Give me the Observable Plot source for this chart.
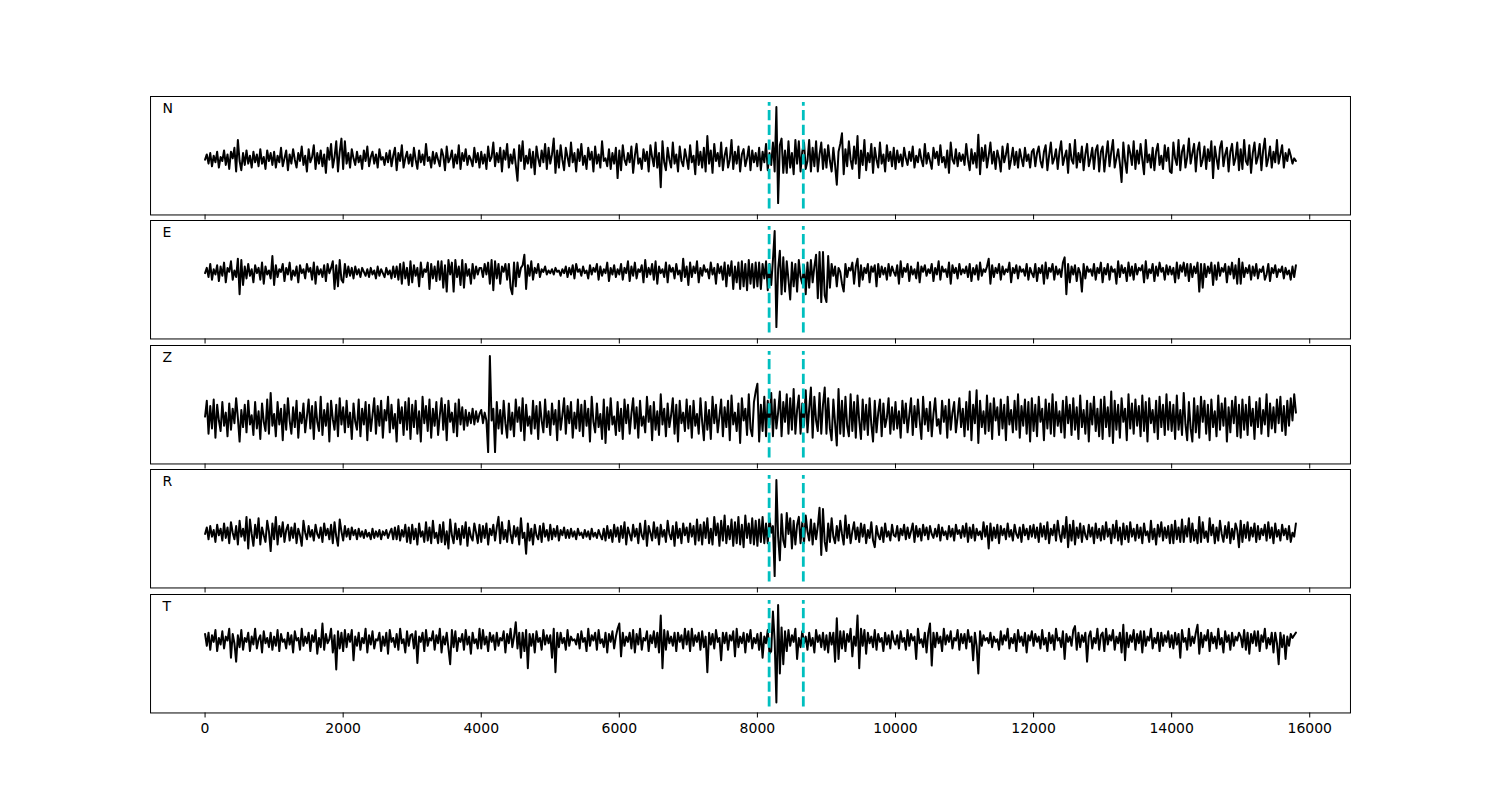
<!DOCTYPE html>
<html><head><meta charset="utf-8">
<script src="https://cdn.jsdelivr.net/npm/d3@7"></script>
<script src="https://cdn.jsdelivr.net/npm/@observablehq/plot@0.6"></script>
<style>
body{margin:0;background:#fff;font-family:"DejaVu Sans",sans-serif}
#fig{position:relative;width:1500px;height:800px;background:#fff}
</style>
</head><body><div id="fig"></div>
<script>
// sample spacing of the traces (x units)
const sampleStep = 25;
const channels = ["N", "E", "Z", "R", "T"];

const N = [
 -3, 1, -6, 2, -8, 0, -5, 3, -9, -1, -4, 4, -7, 1, -10, 3, -2, 6, -12, 12, -4, -11, 2, -7, 4, -6, 0, -9, 3, -5, 1, -8, 5, -6, -1, -10, 4, -4, 2, -7,
 3, -9, 0, -5, 6, -8, -2, 4, -11, 1, -6, 5, -3, -9, 2, -4, 7, -7, 0, -12, 5, -5, -1, 8, -10, 2, -6, 4, -8, 1, -13, 6, -3, 9, -9, -1, 11, -12, 3, 13,
 -10, 11, -6, 2, -9, 5, -2, -7, 3, -5, 0, -10, 4, -4, 7, -8, -1, 3, -6, 1, -9, 5, -3, -1, -7, 2, -5, 4, -8, 0, 6, -11, 2, -4, 8, -9, -2, 3, -6, 1,
 -8, 6, -3, -10, 4, -5, 1, -7, 9, -4, -1, -9, 3, -6, 2, -3, -8, 5, 0, -11, 7, -5, -2, 4, -9, 1, -6, 8, -10, 2, -4, 5, -7, 0, -3, -8, 6, -5, 2, -9,
 3, -6, 1, -10, 7, -4, -1, 10, -8, 2, -5, 6, -12, 4, -3, 9, -9, 1, -6, 5, -7, -19, 8, -4, 11, -10, 0, -6, 5, -9, 3, -14, 7, -2, -8, 4, -5, 9, -10, 6,
 -6, 1, 13, -13, 4, -9, 8, -3, -11, 6, -1, -8, 10, -5, 2, -12, 5, -4, 9, -7, 0, -10, 6, -3, 3, -12, 7, -6, 1, -9, 11, -4, -2, -8, 5, -10, 2, -6, 6, -17,
 4, -11, 8, -3, -7, 2, -5, 7, -13, 0, 9, -6, -2, -10, 5, -4, 3, -12, 8, -1, -8, 10, -9, 2, -24, 11, -5, -11, 6, -3, -9, 10, -6, 1, -12, 7, -4, -8, 5, -2,
 -10, 8, -5, 0, -14, 11, -7, 3, -9, 6, -12, 15, -6, 4, -13, 9, -4, 2, -8, 10, -11, 0, 6, -9, -3, 12, -10, 3, -6, 7, -12, 1, 5, -8, -2, 7, -11, 4, -5, 2,
 -8, 6, -11, 3, -5, 9, -11, 2, -7, 10, -12, 37, -36, 8, 13, -13, 4, -13, 11, -9, 2, -14, 12, -6, 11, -12, 3, 10, -10, -4, 12, -12, 6, -8, 11, -12, 1, 10, -10, 5,
 -9, 8, -4, -12, 6, -7, -22, 3, 9, 17, -14, 5, -8, 11, -3, -10, 7, -6, 15, -17, 4, -7, 12, -11, 2, -5, 9, -13, 6, -3, -9, 10, -6, 1, -12, 8, -4, 3, -8, 6,
 -10, 4, -5, 1, -8, 6, -2, -7, 3, -4, 7, -9, 0, -5, 5, -3, -8, 9, -6, 2, -4, -10, 6, -2, 3, -7, 8, -5, -1, -9, 4, -13, 10, -3, -6, 5, -8, 2, -4, 1,
 -7, 9, -3, -11, 5, -6, 2, -9, 16, -14, 6, -4, 8, -9, 0, 10, -6, 3, -10, 4, -2, -12, 7, -5, 1, 9, -10, -3, 6, -7, 3, -9, 5, -2, -8, 6, -4, 1, -9, 3,
 5, -8, 2, 7, -4, -9, 3, 8, -11, 0, 10, -6, -2, 5, -10, 3, 11, -7, -1, 4, -13, 9, -3, -6, 12, -9, 2, -5, 7, -11, 1, 9, -8, -2, 6, -10, 4, 8, -12, 3,
 7, -12, 0, 11, -8, 3, 12, -9, -2, 5, -6, -20, 10, -4, -13, 8, 2, -7, 11, -10, 4, -6, 9, -3, -14, 12, -5, 1, -9, 6, -11, 3, 9, -7, 0, -10, 8, -4, 6, -12,
 -13, 10, -2, -7, 12, -11, 3, 8, -9, -1, 13, -6, 2, 9, -12, 4, 10, -8, -3, 7, -10, 5, -4, 11, -17, 7, -2, -10, 6, 11, -8, 1, 6, -12, 3, 9, -7, -2, 10, -11,
 5, -10, 12, -4, -7, 8, -13, 2, 10, -6, -1, 9, -11, 4, 13, -8, -2, 7, -9, 3, -5, 12, -6, 1, 8, -9, 2, -4, 5, 0, -6, -2, -4
];
const E = [
 5, 9, 2, 12, 0, 8, 4, 11, -1, 10, 3, 13, -2, 9, 6, 14, 0, 7, 2, 16, -11, 15, -4, 10, 1, 12, 3, 8, -2, 11, 5, 9, 0, 13, -3, 10, 4, 7, 1, 18,
 -4, 11, 2, 8, 6, 12, -1, 9, 4, 13, 0, 7, 3, 10, -2, 11, 5, 8, 1, 12, 6, 9, 0, 13, -3, 10, 4, 8, 2, 11, -1, 12, 5, 9, 14, -7, 11, -5, 15, 0,
 -2, 12, 2, 10, 3, 9, 1, 10, 4, 8, 2, 9, 6, 3, 8, 2, 9, 4, 7, 1, 10, 3, 8, 5, 2, 9, 4, 7, 1, 10, 2, 10, 0, 12, -3, 13, 1, 9, -4, 14,
 -2, 11, 3, 9, -5, 13, 2, 8, 6, 13, -7, 12, 1, 10, -1, 14, 0, 14, -6, 11, -9, 15, 4, 13, -9, 15, 2, 10, -4, 15, -6, 12, 3, 8, -3, 12, 1, 10, 4, 9,
 9, 2, 12, 4, 13, -3, 15, -8, 14, 1, 12, -3, 10, 6, 12, 0, 12, -6, -11, 13, -5, 13, 2, 9, 11, 19, -7, 11, 3, 14, 0, 9, 5, 12, 2, 8, 6, 10, 4, 7,
 5, 8, 4, 9, 6, 7, 3, 8, 5, 10, 2, 9, 4, 11, 1, 12, 6, 8, 3, 10, 5, 7, 1, 11, 4, 9, 6, 12, 0, 10, 3, 8, 5, 13, -1, 9, 4, 11, 2, 8,
 4, 12, 0, 9, 5, 14, -1, 10, 3, 13, 1, 8, 6, 11, -2, 15, 2, 9, 4, 12, 0, 14, -3, 10, 5, 8, 2, 13, -2, 11, 6, 9, 1, 12, 4, 7, -1, 16, 2, 10,
 -4, 13, 2, 10, 5, 14, -2, 9, 3, 11, 6, 8, 1, 13, 4, 9, -3, 12, 5, 10, 0, 13, -5, 11, 3, 14, -7, 10, -2, 13, -7, 14, -5, 12, -8, 15, -3, 12, -6, 13,
 -5, 13, -7, 12, 1, 14, -8, 12, -4, 15, 37, -36, 8, 22, -11, 17, -9, 14, 0, -15, 13, -5, 12, -9, 15, 2, -3, 11, -11, 13, -6, 15, -2, 10, 19, -14, 21, -17, 21, -12,
 -17, 18, -6, 12, 3, 10, -5, 9, 6, -3, -9, 12, 2, 9, 7, 13, -3, 10, 16, -5, 11, 0, 9, 5, 12, -2, 10, 6, 11, -5, 12, 2, 10, 4, 9, 0, 12, 3, 10, 6,
 3, 11, -3, 14, 2, 9, 6, 12, -1, 10, 4, 8, 1, 13, -2, 10, 6, 11, 3, 8, 5, 12, -1, 9, 4, 14, 0, 10, 6, 8, 2, 13, -3, 11, 5, 9, 1, 12, 4, 8,
 5, 10, 2, 12, -1, 9, 4, 11, 0, 13, 3, 8, 6, 10, 16, -3, 11, 2, 9, 5, 12, 0, 10, 4, 8, 6, 13, -2, 9, 5, 11, 1, 10, 6, 8, 3, 12, 0, 9, 5,
 2, 12, -1, 9, 5, 11, -3, 13, 1, 9, 6, 12, 0, 10, 4, 8, 2, 13, 17, -11, 12, -2, 10, 4, 11, -1, 9, 5, -9, 12, 1, 10, 6, 8, 3, 12, 0, 9, 5, 13,
 -2, 9, 4, 12, 0, 10, 6, 8, -3, 14, 2, 11, 5, 9, -1, 13, 3, 10, 0, 12, 4, 9, 7, 11, -2, 14, 1, 8, 5, 12, -1, 10, 3, 13, 6, 9, 0, 11, 4, 10,
 4, 9, -2, 13, 1, 11, 6, 13, 3, 12, -1, 12, 2, 10, 5, 13, -9, 12, -6, 12, 2, 10, 5, 13, -4, 11, 0, 13, 3, 9, 6, 12, -2, 10, 4, 13, 1, 11, -3, 16,
 -3, 13, 2, 9, 5, 11, 0, 10, 3, 12, 1, 8, 6, 10, 0, 4, 12, -1, 9, 5, 11, 2, 8, 6, 10, 1, 9, 4, 7, 0, 10, 2, 11
];
const Z = [
 -9, 3, -22, -1, -18, 4, -25, 0, -12, -20, 2, -16, -6, -24, 1, -19, -3, -14, 5, -10, -28, -4, -17, 0, -21, 3, -15, -8, -23, 2, -18, -5, -26, 1, -13, -20, 4, -22, 9, -16,
 -7, -24, 2, -15, -3, -27, 0, -19, 5, -12, -22, -2, -17, 3, -25, -6, -14, 1, -21, -9, 4, -18, -1, -26, 2, -13, -20, 6, -23, -4, -16, 1, -28, 3, -11, -19, 0, -24, 5, -15,
 -2, -21, 3, -17, -6, -26, 1, -13, -19, 4, -24, -3, -15, 2, -27, 0, -20, -8, 5, -22, -1, -16, 3, -25, -4, -12, 6, -21, 0, -18, -7, -28, 4, -14, -2, -23, 2, -19, 5, -26,
 0, -17, 3, -22, -5, -28, 6, -14, -1, -20, 4, -25, -3, -16, 2, -23, -8, 5, -19, 0, -27, 3, -13, -6, -21, 1, -24, 4, -15, -2, -19, -4, -16, -6, -14, -3, -15, -5, -13, -7,
 -4, -14, -6, -12, -36, 37, -12, -3, -36, 2, -18, -4, -22, 3, -14, -25, 1, -19, -6, -24, 4, -13, -2, -20, 5, -27, 0, -16, -9, -22, 3, -18, -1, -26, 2, -12, -21, 4, -17, -5,
 -23, 1, -15, -4, -27, 3, -19, -8, 5, -22, -1, -14, 2, -25, -6, -18, 4, -20, 0, -24, 3, -16, -3, -28, 6, -13, -21, 1, -17, -7, -26, 4, -29, -2, -19, 5, -15, -9, -23, 2,
 -20, -3, -26, 4, -14, 0, -22, -7, 5, -18, -2, -25, 3, -16, -9, -21, 6, -13, -1, -27, 2, -19, -5, -23, 8, -15, -3, -24, 1, -17, -8, 5, -22, 0, -28, 3, -14, -6, -20, 4,
 -18, -1, -25, 3, -16, -7, -22, 5, -13, -27, 2, -19, -4, -26, 6, -14, 0, -21, -9, 4, -24, -2, -17, 3, -27, 7, -15, -6, -20, 1, -29, 5, -12, -3, -23, 8, -18, -24, 2, 10,
 16, -28, 0, -20, 6, -24, 3, -15, 9, -24, 4, -18, -6, 10, -24, 2, -13, 8, -22, 5, -19, 12, -22, -4, 7, -22, 1, -16, 11, -21, -3, 13, -25, 6, -12, -20, 9, -22, 0, 13,
 -22, 5, -18, -27, 4, -14, -31, 12, -22, 3, -24, 6, -16, -24, 8, -20, 2, -25, 7, -12, -26, 4, -19, 0, -23, 5, -15, -28, 3, -21, -6, 4, -24, 1, -17, -10, 5, -22, -2, -19,
 2, -18, -5, -25, 3, -14, 1, -21, -8, 5, -23, -1, -17, 4, -12, -26, 6, -15, -3, -20, 2, -24, -7, 5, -16, -11, -22, 3, -13, -1, -25, 4, -19, -6, 2, -21, -9, 5, -17, -3,
 -24, 2, -19, 10, -27, 0, -14, 11, -29, 3, -17, -5, -22, 7, -20, 1, -26, 5, -12, -2, -23, 4, -18, 0, -27, 6, -15, -4, -21, 3, -19, 8, -25, -1, -16, 4, -22, 2, -28, 5,
 -20, 0, -24, 6, -13, -3, -27, 4, -18, 1, -22, 8, -24, 2, -16, -5, -21, 3, -25, 6, -14, 0, -23, 5, -19, -2, -26, 7, -17, -4, -22, 3, -28, 1, -15, 6, -20, -3, -24, 4,
 -26, 6, -17, -2, -24, 10, -29, 3, -19, 0, -25, 5, -13, -3, -27, 8, -18, 1, -22, 4, -16, -1, -24, 7, -20, 2, -28, 5, -14, -4, -21, 3, -26, 6, -17, 0, -23, 8, -19, 2,
 -20, 0, -26, 7, -19, -4, -23, 9, -15, -27, 2, -18, -28, 5, -21, -1, -25, 6, -13, 3, -22, 0, -27, 4, -17, -5, -24, 7, -19, 1, -16, 5, -28, -2, -21, 3, -14, 6, -24, 0,
 -25, 4, -19, 0, -23, 6, -16, -3, -26, 2, -17, 5, -22, -4, -15, 8, -24, 1, -18, -2, -21, 4, -14, 6, -20, -1, -23, 3, -16, 5, -12, 8, -6
];
const R = [
 -4, 1, -8, 2, -6, -1, -10, 3, -5, 0, -9, 4, -7, 1, -11, 5, -3, -8, 2, -12, 6, -6, 0, -9, 9, -15, 7, -4, -13, 3, -7, 8, -12, 1, -5, -10, 6, -2, -17, 4,
 -8, 9, -12, 2, -6, 5, -10, -1, 3, -9, 1, -7, 4, -11, 0, -5, -13, 6, -3, -8, 2, -6, -1, -9, 3, -4, -7, 1, -10, 4, -5, 0, -8, 3, -11, 5, -6, -13, 7, -2,
 -9, 2, -6, 0, -8, 1, -5, -1, -8, 0, -6, -2, -7, -1, -6, -3, -8, 0, -7, -2, -6, -1, -8, -2, -5, -1, -7, -3, 0, -8, 1, -8, 2, -9, -1, -6, 3, -10, 1, -11,
 3, -8, 0, -12, 4, -6, -2, -10, 5, -9, 1, -11, 6, -7, -3, -11, 3, -10, 5, -12, -2, -15, 7, -5, -11, 4, -8, 0, -12, 2, -7, 5, -13, 1, -6, -9, 4, -3, -11, 3,
 -10, 2, -7, 4, -12, 0, -5, 3, -9, 1, 9, -11, 5, -8, -1, -10, 6, -4, -11, 2, -6, 1, -12, 8, -7, -3, -19, 4, -9, 0, -12, 3, -5, -8, 2, -10, 4, -6, -1, -9,
 3, -8, 0, -6, 2, -9, -1, -5, 1, -7, -1, -7, 0, -6, -2, -8, 0, -5, -3, -7, -1, -6, -2, -8, 0, -6, -3, -7, -1, -5, -8, 0, -9, 2, -7, -1, -10, 3, -6, 1,
 -10, 2, -7, 5, -12, 1, -4, -9, 3, -6, 0, -11, 4, -5, -8, 6, -13, 2, -3, -9, 5, -7, 1, -12, 3, -6, -1, -10, 6, -4, -8, 2, -13, 5, -7, 0, -11, 4, -5, 1,
 -10, 4, -6, 2, -12, 7, -9, 3, -12, 5, -7, 8, -11, 0, -12, 9, -5, 4, -13, 6, -9, 10, -11, 2, -8, 7, -13, 5, -11, 9, -12, 3, -14, 10, -7, 4, -11, 8, -12, 6,
 -13, 7, -10, 9, -11, 4, -11, 8, -3, 2, -36, 37, -6, -24, 11, -9, -14, 12, -4, 8, -15, 6, -12, 3, 9, -11, 5, -11, 10, -2, -9, 7, -12, 4, -8, 2, 16, -20, 15, -10,
 -17, 4, -10, 8, -6, -11, 2, -9, 6, -4, -12, 10, -7, 3, -11, -2, 5, -8, 1, -10, 4, -6, 3, -11, -1, -7, 5, -9, -14, 2, -5, -8, 1, -10, 4, -6, -2, -9, 3, -5,
 -6, 2, -9, 0, -5, 3, -8, 1, -7, -2, 4, -10, 2, -6, 0, -9, 3, -5, 1, -8, 2, -4, -7, 0, -6, 3, -9, 1, -5, -2, -8, 2, -6, 0, -9, 3, -4, -1, -7, 2,
 -6, 4, -10, 1, -7, 3, -9, 0, -5, -2, -8, 5, -6, 2, -15, 4, -9, 1, -7, 3, -11, 2, -5, 0, -8, 4, -6, -1, -9, 3, -4, -7, 1, -10, 3, -5, 0, -8, 2, -6,
 3, -7, 1, -10, 4, -6, 2, -8, 5, -11, 0, -5, 3, -9, 6, -4, -10, 2, -7, 9, -14, 3, -9, 6, -12, 1, -7, 4, -10, 2, -5, -8, 3, -6, 1, -11, 4, -7, 0, -9,
 2, -8, 5, -6, 0, -11, 3, -7, 6, -9, 1, -12, 4, -8, 2, -10, 5, -6, 0, -9, 3, -7, 1, -11, 4, -5, -2, -10, 6, -8, 0, -12, 3, -6, 5, -9, 1, -7, 2, -11,
 3, -11, 6, -8, 1, -10, 7, -10, 2, -6, 8, -10, 4, -9, -1, -11, 9, -10, 5, -7, -2, -10, 8, -5, 3, -11, 1, -9, 6, -4, -10, 2, -7, 5, -11, 0, -8, 4, -1, -14,
 6, -10, 3, -7, 5, -9, 1, -6, 4, -10, 2, -8, 0, -5, 3, -9, 5, -7, 1, -11, 4, -6, -1, -9, 3, -5, 0, -8, 2, -10, -3, -6, 4
];
const T = [
 15, 6, 16, 3, 14, 9, 18, 2, 12, 7, 17, 4, 13, 10, 19, -3, 15, 8, -6, 14, 5, 18, 3, 12, 9, 16, 2, 13, 7, 19, 4, 11, 14, 1, 17, 8, 12, 5, 16, 3,
 13, 6, 18, 2, 15, 9, 11, 4, 16, 7, 14, 1, 17, 10, 12, 3, 19, 6, 13, 8, 16, 2, 14, 9, 18, 0, 12, 5, 23, 3, 15, 8, 11, 19, 1, 14, -12, 17, 4, 16,
 2, 18, 5, 15, 9, 18, -5, 13, 6, 16, 3, 12, 8, 19, 1, 14, 7, 17, 4, 11, 10, 16, 2, 13, 6, 16, 0, 18, 9, 12, 5, 15, 3, 19, 8, 11, 1, 17, 6, 14,
 15, 4, 17, -7, 13, 9, 16, 2, 18, 6, 12, 10, 17, 3, 14, 8, 19, 1, 13, 7, 16, 4, -8, 18, 5, 17, 2, 12, 9, 15, 3, 18, 7, 13, 0, 16, 8, 11, 4, 19,
 4, 18, 7, 13, 2, 16, 9, 14, 3, 16, 6, 12, 10, 17, 1, 15, 8, 19, 5, 13, 24, 4, 16, -3, 16, 2, 18, -11, 15, 6, 15, 1, 17, 9, 12, 3, 18, 7, 14, 8,
 14, -3, 19, -14, 16, 5, 16, 8, 12, 3, 18, 6, 13, 10, 11, 7, 15, 4, 17, 9, 12, 2, 19, 6, 14, 10, 16, 3, 18, 8, 11, 5, 16, 1, 15, 9, 17, 4, 13, 19,
 23, -2, 16, 6, 13, 9, 16, 4, 18, 1, 15, 7, 19, 3, 12, 10, 17, 2, 14, 8, 17, 5, 16, 1, 29, -11, 18, 3, 17, 8, 13, 6, 16, 2, 16, 9, 14, 4, 19, 7,
 17, 2, 19, 6, 14, 9, 16, 3, 17, 5, 13, -14, 16, 7, 15, 4, 18, 9, 12, -5, 16, 8, 16, 3, 14, 10, 17, -2, 19, 5, 13, 8, 16, 1, 15, 9, 18, 4, 12, 8,
 15, 3, 16, -3, 13, 8, 18, 0, 2, 32, 10, -37, 37, -15, 20, -8, 17, 2, 18, 6, 14, 9, 19, -4, 12, 5, 17, 8, 13, 3, 16, 6, 12, 1, 18, 9, 14, 5, 16, 3,
 14, 1, 16, 7, 16, -6, 27, -4, 17, 4, 17, 2, 15, 9, 19, -2, 13, 6, 29, -11, 19, 6, 18, 0, 16, 8, 13, 5, 18, 3, 15, 9, 12, 2, 16, 7, 14, 4, 17, 10,
 7, 14, 4, 17, 9, 12, 3, 18, 6, 15, 10, 13, -4, 19, 8, 11, 5, 16, 1, 16, 23, -9, 16, 5, 16, 8, 13, 2, 19, 7, 14, 9, 17, 4, 12, 10, 18, 3, 15, 8,
 15, 4, 18, 9, 13, -5, 16, 6, -15, 17, 6, 14, 10, 12, 8, 16, 5, 13, 9, 11, 3, 17, 7, 14, 10, 19, 4, 12, 8, 15, 2, 18, 9, 13, 6, 16, 1, 14, 10, 17,
 6, 15, 9, 13, 4, 18, 7, 12, 2, 16, 8, 14, 3, 19, 10, 12, 5, 17, -4, 15, 9, 13, 6, 18, 21, 3, 16, 5, 14, 9, 16, -6, 13, 17, 4, 12, 8, 19, 3, 14,
 16, 2, 19, 7, 14, 10, 18, 3, 13, 8, 16, 1, 22, -5, 16, 5, 14, 9, 18, 3, 15, 8, 17, 1, 17, 6, 13, 10, 19, 4, 12, 8, 16, 2, 16, 6, 14, 9, 17, 5,
 14, 4, 16, 7, 15, -3, 18, 9, 12, 3, 19, 6, 13, 8, 16, 22, 0, 16, 5, 14, 10, 18, 2, 16, 8, 13, 4, 19, 7, 12, 1, 17, 9, 14, 3, 16, 6, 13, 10, 16,
 13, 5, 18, 3, 16, 0, 15, 8, 17, 6, 17, 2, 14, 9, 19, 4, 12, 7, 16, 1, 16, 8, -8, 16, 5, 14, -4, 13, 6, 15, 12, 14, 16
];

const picks = [8170, 8665];
const xTicks = [0, 2000, 4000, 6000, 8000, 10000, 12000, 14000, 16000];
const xDomain = [-790, 16590];
const yHalf = 45;
const pickFrac = 0.9;

const traces = {N, E, Z, R, T};
const fig = document.getElementById("fig");
const axTop = 96, axBottom = 712, hspace = 0.05;
const panelH = (axBottom - axTop) / (channels.length + (channels.length - 1) * hspace);
const mt = 3, mb = 34;

channels.forEach((ch, k) => {
  const top = axTop + k * panelH * (1 + hspace);
  const data = traces[ch].map((v, i) => ({t: i * sampleStep, v}));
  const last = k === channels.length - 1;
  const svg = Plot.plot({
    width: 1500,
    height: panelH + mt + mb,
    marginTop: mt, marginBottom: mb, marginLeft: 150, marginRight: 150,
    style: {background: "transparent", overflow: "visible", fontFamily: "DejaVu Sans", fontSize: "14px", color: "black"},
    x: {domain: xDomain, axis: null},
    y: {domain: [-yHalf, yHalf], axis: null},
    marks: [
      Plot.lineY(data, {x: "t", y: "v", stroke: "black", strokeWidth: 2, strokeLinejoin: "round"}),
      Plot.ruleX(picks, {x: d => d, y1: -yHalf * pickFrac, y2: yHalf * pickFrac, stroke: "#00bfbf", strokeWidth: 2.8, strokeDasharray: "10.3,4.4"}),
      Plot.frame({stroke: "black", strokeWidth: 1}),
      Plot.axisX(xTicks, {anchor: "bottom", label: null, tickSize: 5, tickPadding: 5, tickFormat: last ? (d => String(d)) : (() => ""), fontSize: 14}),
      Plot.text([ch], {frameAnchor: "top-left", dx: 12, dy: 7, text: d => d, fontSize: 14, fill: "black"})
    ]
  });
  svg.style.position = "absolute";
  svg.style.left = "0px";
  svg.style.top = (top - mt) + "px";
  fig.appendChild(svg);
});
</script>
</body></html>
